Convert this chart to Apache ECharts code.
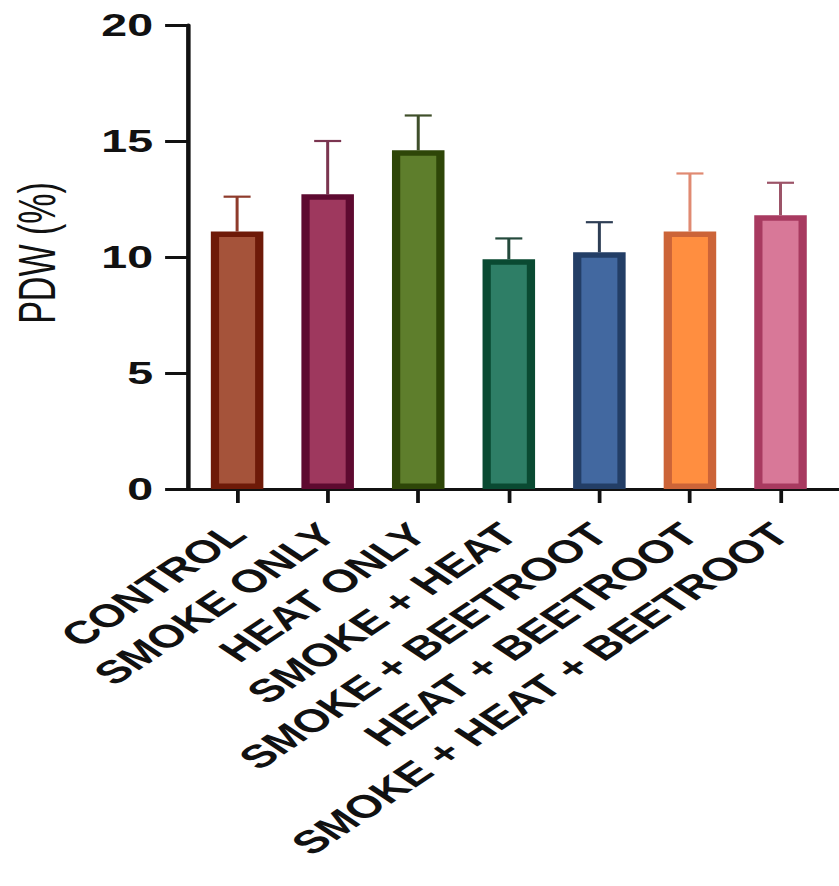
<!DOCTYPE html>
<html>
<head>
<meta charset="utf-8">
<title>PDW (%)</title>
<script src="https://cdn.jsdelivr.net/npm/echarts@6/dist/echarts.min.js"></script>
<style>
  html, body { margin: 0; padding: 0; background: #ffffff; overflow: hidden; }
  /* The figure is laid out on a narrow canvas and widened horizontally. */
  #chart { width: 559px; height: 886px; transform: scaleX(1.5009); transform-origin: 0 0; }
</style>
</head>
<body>
<div id="chart"></div>
<script>
// Group names
const categories = [
  'CONTROL',
  'SMOKE ONLY',
  'HEAT ONLY',
  'SMOKE + HEAT',
  'SMOKE + BEETROOT',
  'HEAT + BEETROOT',
  'SMOKE + HEAT + BEETROOT'
];
// Mean PDW (%) per group
const means = [11.1, 12.7, 14.6, 9.9, 10.2, 11.1, 11.8];
// Standard deviation per group (drawn upward only)
const sds = [1.5, 2.3, 1.5, 0.9, 1.3, 2.5, 1.4];
// Y axis ticks
const yTicks = [0, 5, 10, 15, 20];

// Styling per group
const fillColors   = ['#A5533A', '#9E385E', '#5E7E2C', '#2E7E66', '#4268A0', '#FF8E40', '#D87898'];
const borderColors = ['#6E1A08', '#5E0A30', '#2E4608', '#0A4A32', '#233E66', '#CC6438', '#A83A60'];
const errorColors  = ['#8E3B2B', '#7B3550', '#3F4F2A', '#244A3C', '#2E3E55', '#E08A72', '#9C5468'];

const FONT = '"Liberation Sans", Arial, Helvetica, sans-serif';
const INK = '#111111';

const chart = echarts.init(document.getElementById('chart'), null, { renderer: 'svg' });

const option = {
  backgroundColor: '#ffffff',
  animation: false,
  grid: [
    // axis frame: y axis and the long baseline
    { left: 118, right: 0, top: 25, bottom: 397 },
    // plotting band for the bars
    { left: 127.8, right: 8.8, top: 25, bottom: 397 }
  ],
  xAxis: [
    {
      gridIndex: 0, type: 'value', min: 0, max: 1,
      axisLine: { show: true, lineStyle: { color: INK, width: 3 } },
      axisTick: { show: false }, axisLabel: { show: false }, splitLine: { show: false }
    },
    {
      gridIndex: 1, type: 'category', data: categories,
      axisLine: { show: false },
      axisTick: { show: true, alignWithLabel: true, length: 14, lineStyle: { color: INK, width: 2.5 } },
      axisLabel: {
        interval: 0, rotate: 45, margin: 40,
        fontFamily: FONT, fontSize: 32, fontWeight: 'bold', color: INK
      },
      splitLine: { show: false }
    }
  ],
  yAxis: [
    {
      gridIndex: 0, type: 'value', min: yTicks[0], max: yTicks[yTicks.length - 1], interval: 5,
      name: 'PDW (%)', nameLocation: 'middle', nameGap: 83,
      nameTextStyle: { fontFamily: FONT, fontSize: 34, color: INK, padding: [0, 0, 0, 8] },
      axisLine: { show: true, lineStyle: { color: INK, width: 3 } },
      axisTick: { show: true, length: 15, lineStyle: { color: INK, width: 3 } },
      axisLabel: { margin: 23, fontFamily: FONT, fontSize: 31, fontWeight: 'bold', color: INK },
      splitLine: { show: false }
    },
    {
      gridIndex: 1, type: 'value', min: yTicks[0], max: yTicks[yTicks.length - 1], show: false
    }
  ],
  series: [
    {
      // upward SD whiskers, drawn beneath the bars
      type: 'custom',
      xAxisIndex: 1, yAxisIndex: 1,
      z: 1,
      data: means.map((m, i) => [i, m, m + sds[i]]),
      renderItem: function (params, api) {
        const i = api.value(0);
        const base = api.coord([i, api.value(1)]);
        const top = api.coord([i, api.value(2)]);
        const half = 9;
        const color = errorColors[params.dataIndex];
        return {
          type: 'group',
          children: [
            { type: 'line', shape: { x1: base[0], y1: base[1], x2: top[0], y2: top[1] },
              style: { stroke: color, lineWidth: 2 } },
            { type: 'line', shape: { x1: top[0] - half, y1: top[1], x2: top[0] + half, y2: top[1] },
              style: { stroke: color, lineWidth: 2.2 } }
          ]
        };
      }
    },
    {
      type: 'bar',
      xAxisIndex: 1, yAxisIndex: 1,
      z: 2,
      barWidth: 35,
      data: means.map((v, i) => ({
        value: v,
        itemStyle: { color: fillColors[i], borderColor: borderColors[i], borderWidth: 5.5 }
      }))
    }
  ]
};

chart.setOption(option);
</script>
</body>
</html>
